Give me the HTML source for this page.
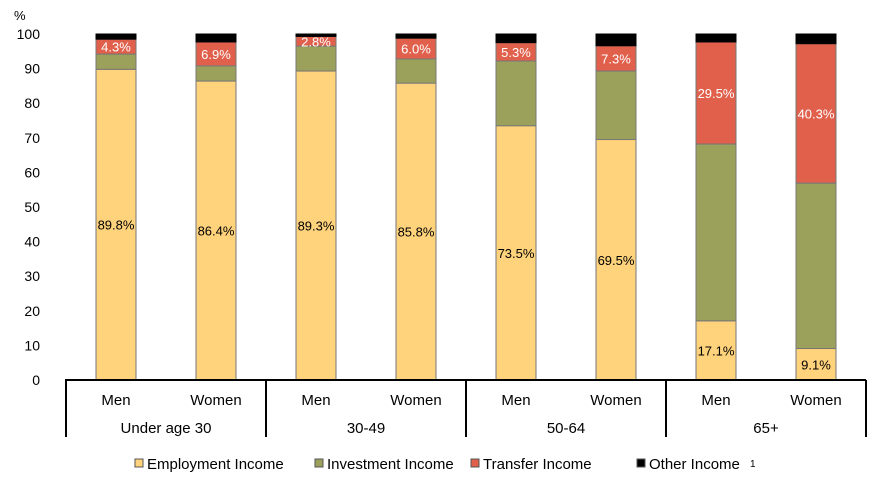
<!DOCTYPE html>
<html><head><meta charset="utf-8"><style>
body{margin:0;background:#fff;font-family:"Liberation Sans",sans-serif}
svg text{font-family:"Liberation Sans",sans-serif}
</style></head><body>
<svg id="chart" width="870" height="481">
<g id="yaxis"></g><g id="bars"></g><g id="cats"></g><g id="legend"></g>
</svg>
<script>
const groups=["Under age 30","30-49","50-64","65+"];
const sexes=["Men","Women"];
const employment=[89.8,86.4,89.3,85.8,73.5,69.5,17.1,9.1];
const investment=[4.4,4.4,7.2,7.0,18.7,19.8,51.1,47.8];
const transfer=[4.3,6.9,2.8,6.0,5.3,7.3,29.5,40.3];
const other=[1.5,2.3,0.7,1.2,2.5,3.4,2.3,2.8];
const yTicks=[0,10,20,30,40,50,60,70,80,90,100];
const seriesNames=["Employment Income","Investment Income","Transfer Income","Other Income"];
const colors=["#ffd27c","#9ba05b","#e0604c","#000000"];
const NS="http://www.w3.org/2000/svg";
const y=v=>380-v*3.46;
const xc=i=>116+i*100;
function mk(tag,attrs,parent,txt){const e=document.createElementNS(NS,tag);for(const k in attrs)e.setAttribute(k,attrs[k]);if(txt!==undefined)e.textContent=txt;parent.appendChild(e);return e;}
const ya=document.getElementById('yaxis');
yTicks.forEach(t=>{const e=mk('text',{x:40,y:y(t)+5,'text-anchor':'end','font-size':14,fill:'#000'},ya,t);

});
const pct=mk('text',{x:14,y:20,'font-size':13},ya,'%');


const bg=document.getElementById('bars');
const series=[employment,investment,transfer,other];
const keys=['employment','investment','transfer','other'];
for(let i=0;i<8;i++){let base=0;
 series.forEach((s,k)=>{const v=s[i];const r=mk('rect',{x:xc(i)-20,y:y(base+v),width:40,height:v*3.46,fill:colors[k],stroke:k==3?'#000':'#777','stroke-width':1},bg);
 
 
 if(k==0||k==2){const t=mk('text',{x:xc(i),y:y(base+v/2)+5,'text-anchor':'middle','font-size':13,fill:k==2?'#fff':'#000'},bg,v.toFixed(1)+'%');
 
 }
 base+=v;});}
const cg=document.getElementById('cats');
mk('line',{x1:65,x2:866,y1:380,y2:380,stroke:'#000','stroke-width':2},cg);
for(let g=0;g<=4;g++)mk('line',{x1:66+g*200,x2:66+g*200,y1:380,y2:437,stroke:'#000','stroke-width':2},cg);
for(let i=0;i<8;i++){const t=mk('text',{x:xc(i),y:405,'text-anchor':'middle','font-size':15},cg,sexes[i%2]);

}
groups.forEach((g,j)=>{const t=mk('text',{x:166+j*200,y:433,'text-anchor':'middle','font-size':15},cg,g);

});
const lg=document.getElementById('legend');
const lx=[135,315,471,637];
seriesNames.forEach((n,k)=>{const r=mk('rect',{x:lx[k],y:459,width:8,height:8,fill:colors[k],stroke:'#555'},lg);


const t=mk('text',{x:lx[k]+12,y:469,'font-size':15},lg,n);


if(k==3){mk('text',{x:lx[k]+113,y:467,'font-size':10},lg,'1');}});
</script>
</body></html>
